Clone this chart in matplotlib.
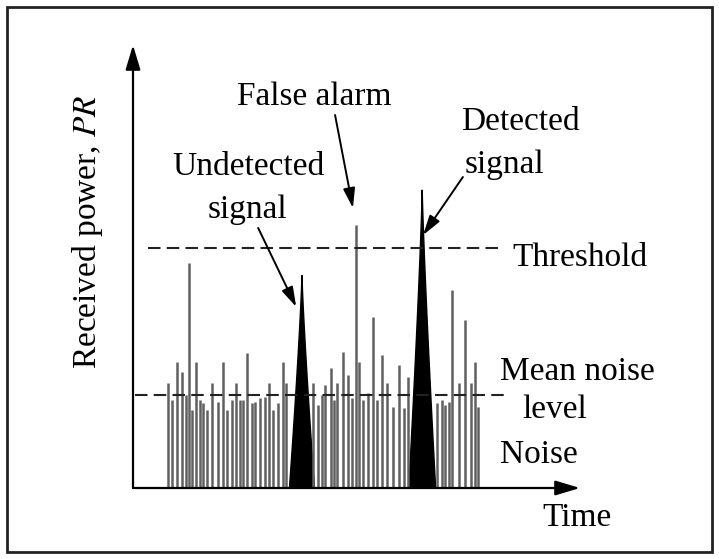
import numpy as np
import matplotlib
matplotlib.use("Agg")
import matplotlib.pyplot as plt
from matplotlib.patches import Polygon, Rectangle

plt.rcParams["font.family"] = ["Liberation Serif", "DejaVu Serif"]
plt.rcParams["mathtext.fontset"] = "stix"

# noise spikes: time position and peak power
noise_t = [0.78, 0.87, 0.98, 1.10, 1.19, 1.25, 1.32, 1.41, 1.50, 1.57, 1.66, 1.77,
           1.90, 2.01, 2.10, 2.21, 2.30, 2.39, 2.46, 2.55, 2.66, 2.73, 2.84, 2.95,
           3.04, 3.13, 3.24, 3.36, 3.42,
           4.03, 4.14, 4.23, 4.30, 4.43, 4.50, 4.56, 4.70, 4.81, 4.90, 4.99, 5.06,
           5.15, 5.26, 5.37, 5.46, 5.57, 5.68, 5.82, 5.95, 6.06, 6.15,
           6.80, 6.91, 6.98, 7.07, 7.14, 7.29, 7.43, 7.56, 7.65, 7.72]
noise_p = [2.37, 1.99, 2.84, 2.62, 2.10, 5.08, 1.76, 2.84, 1.99, 1.92, 1.76, 2.37,
           1.94, 2.84, 1.76, 1.99, 2.37, 1.99, 1.99, 3.05, 1.92, 1.94, 2.03, 2.05,
           2.37, 1.76, 1.92, 2.84, 2.37,
           2.37, 1.87, 2.10, 2.33, 2.71, 1.99, 2.37, 3.07, 2.55, 2.03, 5.94, 2.84,
           1.99, 2.14, 3.86, 1.99, 3.00, 2.37, 1.83, 2.78, 1.81, 2.51,
           1.92, 1.99, 1.87, 1.94, 4.47, 2.37, 3.79, 2.37, 2.84, 1.83]

# target echoes: centre, peak, half width of base
signal_t = [3.78, 6.47]
signal_p = [4.80, 6.73]
signal_hw = [0.28, 0.30]

threshold = 5.42
mean_noise = 2.10

fig = plt.figure(figsize=(7.19, 5.59), dpi=100)
ax = fig.add_axes([133 / 719, 71 / 559, 447 / 719, 443 / 559])
ax.set_xlim(0, 10)
ax.set_ylim(0, 10)
ax.axis("off")

# outer frame
fig.patches.append(Rectangle((7 / 719, 7 / 559), 705 / 719, 545 / 559,
                             transform=fig.transFigure, fill=False,
                             edgecolor="#222222", linewidth=2))

ax.vlines(noise_t, 0, noise_p, colors="#606060", linewidth=1.8)

for t, p, hw in zip(signal_t, signal_p, signal_hw):
    y = np.linspace(0, p, 40)
    w = hw * (1 - y / p) ** 1.2
    xs = np.concatenate([t - w, (t + w)[::-1]])
    ys = np.concatenate([y, y[::-1]])
    ax.add_patch(Polygon(np.column_stack([xs, ys]), closed=True,
                         facecolor="black", edgecolor="black", linewidth=1.0))

ax.plot([0.34, 8.21], [threshold, threshold], color="#222222", lw=1.5,
        dashes=(6, 3), clip_on=False)
ax.plot([0.04, 8.43], [mean_noise, mean_noise], color="#222222", lw=1.5,
        dashes=(6, 3), clip_on=False)

# axes with arrow heads
axis_arrow = dict(arrowstyle="-|>,head_length=1.0,head_width=0.3",
                  mutation_scale=15, lw=1.6, color="black",
                  shrinkA=0, shrinkB=0)
ax.annotate("", xy=(0, 10), xytext=(0, 0), arrowprops=axis_arrow,
            annotation_clip=False)
ax.annotate("", xy=(10, 0), xytext=(0, 0), arrowprops=axis_arrow,
            annotation_clip=False)

fs = 24
ax.text(-1.01, 5.78, "Received power, $\\mathit{PR}$", rotation=90, ha="center",
        va="center", fontsize=fs)
ax.text(9.93, -0.68, "Time", ha="center", va="center", fontsize=fs)
ax.text(8.21, 0.74, "Noise", ha="left", va="center", fontsize=fs)
ax.text(8.21, 2.62, "Mean noise", ha="left", va="center", fontsize=fs)
ax.text(9.44, 1.76, "level", ha="center", va="center", fontsize=fs)
ax.text(8.48, 5.19, "Threshold", ha="left", va="center", fontsize=fs)
ax.text(8.66, 8.26, "Detected", ha="center", va="center", fontsize=fs)
ax.text(8.32, 7.29, "signal", ha="center", va="center", fontsize=fs)
ax.text(2.57, 7.25, "Undetected", ha="center", va="center", fontsize=fs)
ax.text(2.57, 6.28, "signal", ha="center", va="center", fontsize=fs)
ax.text(4.05, 8.83, "False alarm", ha="center", va="center", fontsize=fs)

note_arrow = dict(arrowstyle="-|>,head_length=1.0,head_width=0.3",
                  mutation_scale=12, lw=1.4, color="black",
                  shrinkA=0, shrinkB=0)
ax.annotate("", xy=(4.92, 6.32), xytext=(4.52, 8.42), arrowprops=note_arrow,
            annotation_clip=False)
ax.annotate("", xy=(3.65, 4.09), xytext=(2.80, 5.87), arrowprops=note_arrow,
            annotation_clip=False)
ax.annotate("", xy=(6.49, 5.71), xytext=(7.38, 7.02), arrowprops=note_arrow,
            annotation_clip=False)

fig.savefig("out.png", dpi=100)
